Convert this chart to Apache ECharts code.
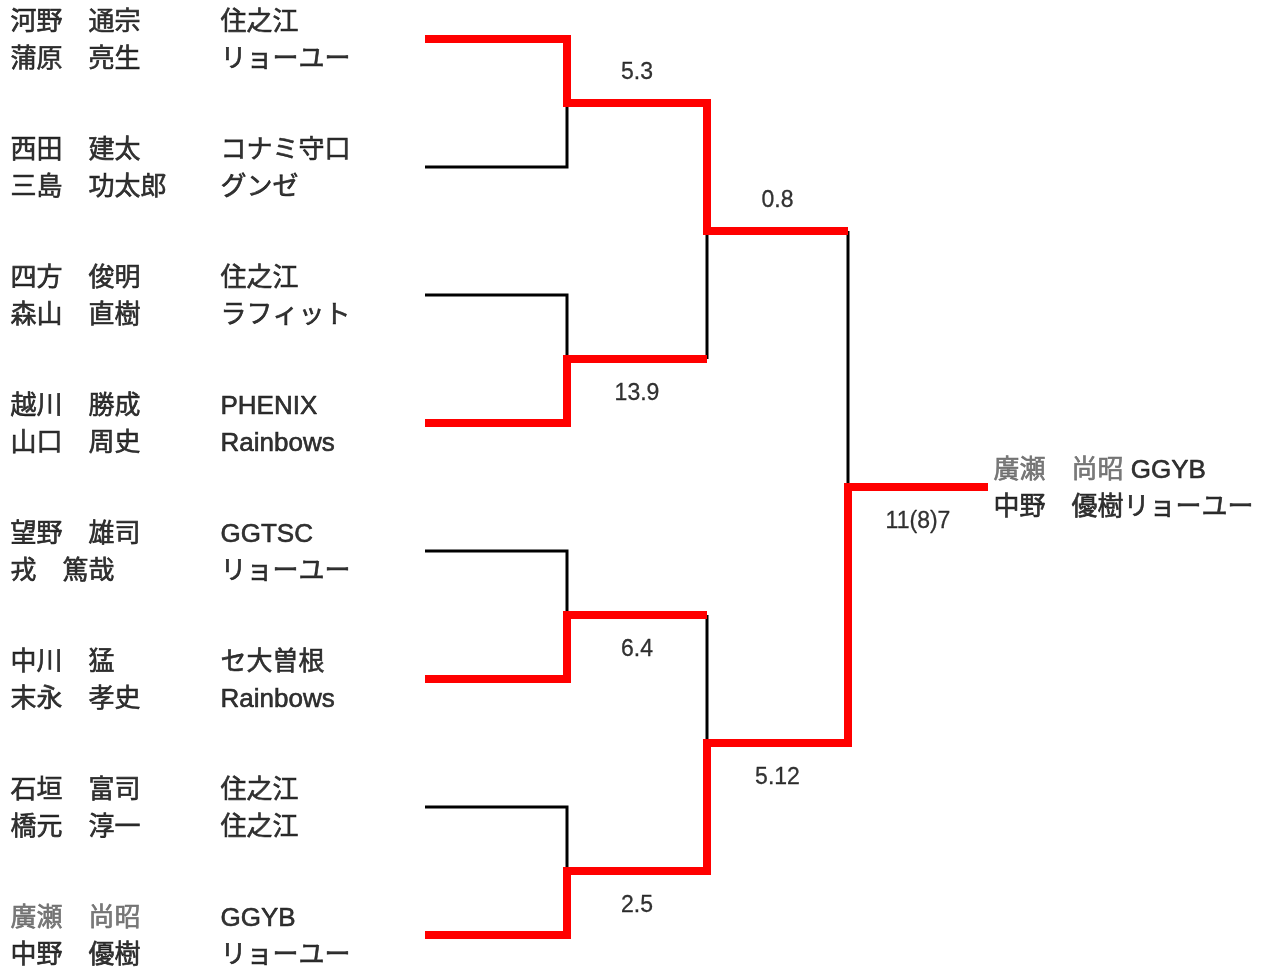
<!DOCTYPE html>
<html><head><meta charset="utf-8">
<script src="https://cdn.jsdelivr.net/npm/echarts@6/dist/echarts.min.js"></script>
<style>html,body{margin:0;padding:0;background:#fff}#c{width:1261px;height:968px}</style>
</head><body><div id="c"></div>
<script>
// ---- data ----
const players1 = ['河野　通宗','西田　建太','四方　俊明','越川　勝成','望野　雄司','中川　猛','石垣　富司','廣瀬　尚昭'];
const players2 = ['蒲原　亮生','三島　功太郎','森山　直樹','山口　周史','戎　篤哉','末永　孝史','橋元　淳一','中野　優樹'];
const teams1 = ['住之江','コナミ守口','住之江','PHENIX','GGTSC','セ大曽根','住之江','GGYB'];
const teams2 = ['リョーユー','グンゼ','ラフィット','Rainbows','リョーユー','Rainbows','住之江','リョーユー'];
// winner of each match per round: 0 = upper entrant, 1 = lower entrant
const winners = [[0,1,1,1],[0,1],[1]];
const scores = [['5.3','13.9','6.4','2.5'],['0.8','5.12'],['11(8)7']];
const greyedPlayers = ['廣瀬　尚昭'];

// ---- layout (pixel coordinate axis) ----
const X = [425, 567, 707, 848, 988];
const slotY = i => 39 + 128 * i;
const ROW = [-16, 21];
const NAME_X = 10, TEAM_X = 220;
const FONT = '"Liberation Sans", "Noto Sans CJK JP", sans-serif';
const GREY = '#595959';

const red = [], black = [], scoreData = [];
let cur = players1.map((_, i) => ({ y: slotY(i), pts: [[X[0], slotY(i)], [X[1], slotY(i)]], slot: i }));
for (let r = 0; r < winners.length; r++) {
  const next = [];
  const xv = X[r + 1], xn = X[r + 2];
  for (let k = 0; k < winners[r].length; k++) {
    const a = cur[2 * k], b = cur[2 * k + 1];
    const ym = (a.y + b.y) / 2;
    const w = winners[r][k] ? b : a, l = winners[r][k] ? a : b;
    if (r === 0) black.push({ coords: l.pts.concat([[xv, ym]]) });
    else { red.push({ coords: l.pts.slice() }); black.push({ coords: [[xv, l.y], [xv, ym]] }); }
    w.pts.push([xv, ym], [xn, ym]);
    w.y = ym;
    next.push(w);
    scoreData.push({ name: scores[r][k], value: [(xv + xn) / 2, ym + (winners[r][k] ? 35 : -30)] });
  }
  cur = next;
}
const champ = cur[0];
red.push({ coords: champ.pts });

const nameData = [], teamData = [];
const styleFor = p => greyedPlayers.includes(p)
  ? { color: GREY, textBorderColor: GREY }
  : { color: '#000', textBorderColor: '#000' };
players1.forEach((p, i) => {
  nameData.push({ name: p, value: [NAME_X, slotY(i) + ROW[0]], label: styleFor(p) });
  nameData.push({ name: players2[i], value: [NAME_X, slotY(i) + ROW[1]], label: styleFor(players2[i]) });
  teamData.push({ name: teams1[i], value: [TEAM_X, slotY(i) + ROW[0]] });
  teamData.push({ name: teams2[i], value: [TEAM_X, slotY(i) + ROW[1]] });
});
const cs = champ.slot;
const champData = [
  { name: (greyedPlayers.includes(players1[cs]) ? '{g|' + players1[cs] + '}' : players1[cs]) + ' ' + teams1[cs], value: [X[4] + 5, champ.y + ROW[0]] },
  { name: (greyedPlayers.includes(players2[cs]) ? '{g|' + players2[cs] + '}' : players2[cs]) + teams2[cs], value: [X[4] + 5, champ.y + ROW[1]] }
];

const textSeries = (data, opts) => Object.assign({
  type: 'scatter', symbolSize: 1, itemStyle: { color: 'rgba(0,0,0,0)' }, silent: true, z: 5,
  data: data,
  label: Object.assign({ show: true, formatter: '{b}', position: 'right', distance: 0, color: '#000',
    textBorderColor: '#000', textBorderWidth: 0.6, fontSize: 26, fontFamily: FONT,
    rich: { g: { color: GREY, textBorderColor: GREY, textBorderWidth: 0.6, fontSize: 26, fontFamily: FONT } } }, opts || {})
});

const chart = echarts.init(document.getElementById('c'));
chart.setOption({
  animation: false,
  backgroundColor: '#fff',
  grid: { left: 0, right: 0, top: 0, bottom: 0 },
  xAxis: { type: 'value', min: 0, max: 1261, show: false },
  yAxis: { type: 'value', min: 0, max: 968, inverse: true, show: false },
  series: [
    { type: 'lines', coordinateSystem: 'cartesian2d', polyline: true, silent: true, z: 2,
      lineStyle: { color: '#000', width: 3, opacity: 1, join: 'miter' }, data: black },
    { type: 'lines', coordinateSystem: 'cartesian2d', polyline: true, silent: true, z: 3,
      lineStyle: { color: '#ff0000', width: 8, opacity: 1, join: 'miter' }, data: red },
    textSeries(nameData),
    textSeries(teamData),
    textSeries(champData),
    textSeries(scoreData, { position: 'inside', fontSize: 23, textBorderWidth: 0.3 })
  ]
});
</script></body></html>
